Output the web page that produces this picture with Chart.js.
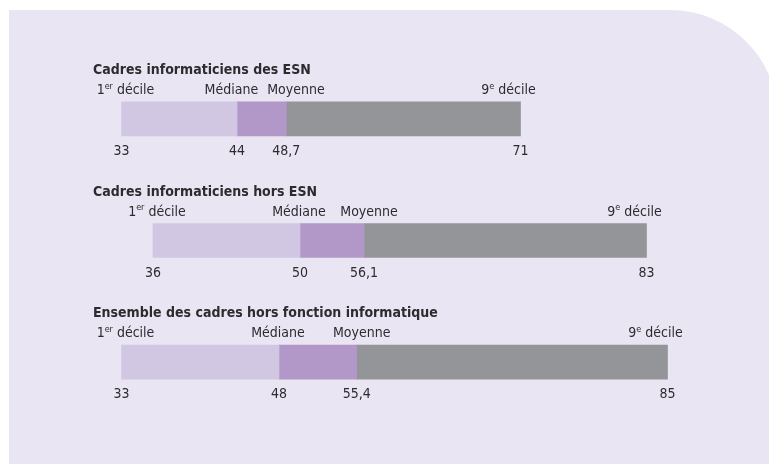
<!DOCTYPE html>
<html>
<head>
<meta charset="utf-8">
<script src="https://cdn.jsdelivr.net/npm/chart.js@4/dist/chart.umd.min.js"></script>
<style>
  html, body { margin: 0; padding: 0; background: #ffffff; overflow: hidden; }
  #wrap { width: 769px; height: 464px; position: relative; }
  canvas { display: block; }
</style>
</head>
<body>
<div id="wrap"><canvas id="c" width="769" height="464"></canvas></div>
<script>
// ---- Data ----
const categories = [
  "Cadres informaticiens des ESN",
  "Cadres informaticiens hors ESN",
  "Ensemble des cadres hors fonction informatique"
];
const decile1 = [33, 36, 33];
const mediane = [44, 50, 48];
const moyenne = [48.7, 56.1, 55.4];
const decile9 = [71, 83, 85];

// ---- Styles ----
const FONT = "'DejaVu Sans Condensed', 'Liberation Sans Narrow', 'DejaVu Sans', sans-serif";
const TEXT = "#2e2b2f";
const PANEL = "#e9e5f3";

const fmt = v => String(v).replace('.', ',');

function drawSup(ctx, base, sup, rest, cx, y, size) {
  ctx.font = size + "px " + FONT;
  const wb = ctx.measureText(base).width;
  const wr = ctx.measureText(rest).width;
  ctx.font = Math.round(size * 0.62) + "px " + FONT;
  const ws = ctx.measureText(sup).width;
  const total = wb + ws + wr;
  let x = cx - total / 2;
  ctx.textAlign = "left";
  ctx.textBaseline = "alphabetic";
  ctx.font = size + "px " + FONT;
  ctx.fillText(base, x, y);
  x += wb;
  ctx.font = Math.round(size * 0.62) + "px " + FONT;
  ctx.fillText(sup, x, y - size * 0.36);
  x += ws;
  ctx.font = size + "px " + FONT;
  ctx.fillText(rest, x, y);
}

const panelPlugin = {
  id: 'panel',
  beforeDraw(chart) {
    const ctx = chart.ctx;
    ctx.save();
    ctx.fillStyle = PANEL;
    const l = 9, t = 10, r = 778, b = 470, rad = 108;
    ctx.beginPath();
    ctx.moveTo(l, t);
    ctx.lineTo(r - rad, t);
    ctx.arc(r - rad, t + rad, rad, -Math.PI / 2, 0);
    ctx.lineTo(r, b);
    ctx.lineTo(l, b);
    ctx.closePath();
    ctx.fill();
    ctx.restore();
  }
};

const textPlugin = {
  id: 'texts',
  afterDatasetsDraw(chart) {
    const ctx = chart.ctx;
    const xs = chart.scales.x, ys = chart.scales.y;
    ctx.save();
    ctx.fillStyle = TEXT;
    categories.forEach((cat, i) => {
      const yc = ys.getPixelForValue(i);
      // title
      ctx.font = "bold 14px " + FONT;
      ctx.textAlign = "left";
      ctx.textBaseline = "alphabetic";
      ctx.fillText(cat, 93, yc - 45);
      // marker labels
      const ly = yc - 25;
      drawSup(ctx, "1", "er", " décile", xs.getPixelForValue(decile1[i]) + 4, ly, 14);
      ctx.font = "14px " + FONT;
      ctx.textAlign = "center";
      let mx = xs.getPixelForValue(mediane[i]) - 1;
      let ax = xs.getPixelForValue(moyenne[i]) + 5;
      const wm = ctx.measureText("Médiane").width;
      const wa = ctx.measureText("Moyenne").width;
      const gap = 9;
      const overlap = (mx + wm / 2 + gap) - (ax - wa / 2);
      if (overlap > 0) { mx -= overlap / 2; ax += overlap / 2; }
      ctx.fillText("Médiane", mx, ly);
      ctx.fillText("Moyenne", ax, ly);
      drawSup(ctx, "9", "e", " décile", xs.getPixelForValue(decile9[i]) - 12, ly, 14);
      // values
      const vy = yc + 36;
      ctx.font = "14px " + FONT;
      ctx.textAlign = "center";
      [decile1[i], mediane[i], moyenne[i], decile9[i]].forEach(v => {
        ctx.fillText(fmt(v), xs.getPixelForValue(v), vy);
      });
    });
    ctx.restore();
  }
};

new Chart(document.getElementById('c'), {
  type: 'bar',
  data: {
    labels: categories,
    datasets: [
      { label: "1er décile – Médiane", data: decile1.map((v, i) => [v, mediane[i]]), backgroundColor: "#d1c7e2" },
      { label: "Médiane – Moyenne", data: mediane.map((v, i) => [v, moyenne[i]]), backgroundColor: "#b198c9" },
      { label: "Moyenne – 9e décile", data: moyenne.map((v, i) => [v, decile9[i]]), backgroundColor: "#939598" }
    ]
  },
  options: {
    indexAxis: 'y',
    responsive: false,
    animation: false,
    devicePixelRatio: 1,
    layout: { padding: { left: 90, right: 49, top: 58, bottom: 41 } },
    datasets: { bar: { grouped: false, barThickness: 34, borderWidth: 0, borderSkipped: false } },
    scales: {
      x: { type: 'linear', min: 30, max: 90, display: false },
      y: { type: 'category', display: false, offset: true }
    },
    plugins: { legend: { display: false }, tooltip: { enabled: false } }
  },
  plugins: [panelPlugin, textPlugin]
});
</script>
</body>
</html>
